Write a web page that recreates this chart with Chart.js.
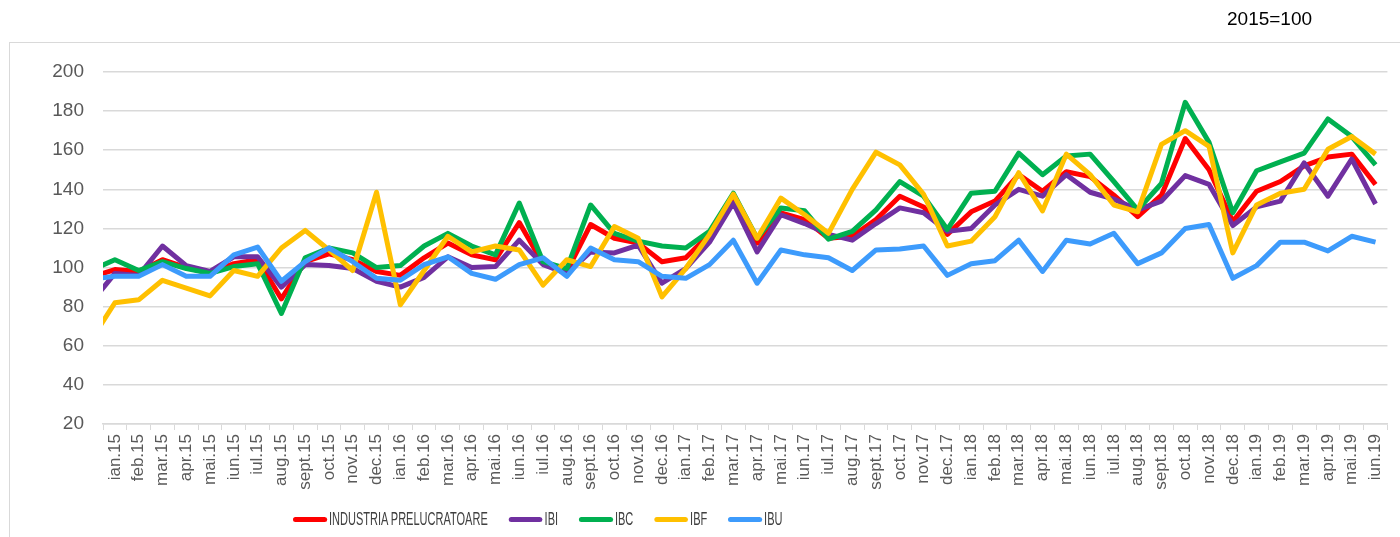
<!DOCTYPE html>
<html>
<head>
<meta charset="utf-8">
<script src="https://cdn.jsdelivr.net/npm/chart.js@4/dist/chart.umd.min.js"></script>
<style>
  html, body { margin: 0; padding: 0; background: #fff; overflow: hidden; }
  #wrap { position: relative; width: 1400px; height: 537px; }
  #frame { position: absolute; left: 9px; top: 42px; width: 1500px; height: 600px; border: 1px solid #d9d9d9; }
  #chart { position: absolute; left: 0; top: 0; }
  #base { position: absolute; left: 1227px; top: 8px; font: 19px "Liberation Sans", sans-serif; color: #000; }
  #legend {
    position: absolute; left: 293px; top: 508px; height: 22px;
    display: flex; align-items: center; white-space: nowrap;
    transform: scaleX(0.58); transform-origin: 0 50%;
    font: 19px "Liberation Sans", sans-serif; color: #404040;
  }
  #legend .item { display: flex; align-items: center; margin-right: 36px; }
  #legend .mark { width: 58.6px; height: 5px; border-radius: 4.3px / 2.5px; margin-right: 3.4px; }
</style>
</head>
<body>
<div id="wrap">
  <div id="frame"></div>
  <canvas id="chart" width="1400" height="537"></canvas>
  <div id="base">2015=100</div>
  <div id="legend"></div>
</div>
<script>
// categories (dec.14 sits left of the visible range, only its segment shows)
const months = ['dec.14',
  'ian.15','feb.15','mar.15','apr.15','mai.15','iun.15','iul.15','aug.15','sept.15','oct.15','nov.15','dec.15',
  'ian.16','feb.16','mar.16','apr.16','mai.16','iun.16','iul.16','aug.16','sept.16','oct.16','nov.16','dec.16',
  'ian.17','feb.17','mar.17','apr.17','mai.17','iun.17','iul.17','aug.17','sept.17','oct.17','nov.17','dec.17',
  'ian.18','feb.18','mar.18','apr.18','mai.18','iun.18','iul.18','aug.18','sept.18','oct.18','nov.18','dec.18',
  'ian.19','feb.19','mar.19','apr.19','mai.19','iun.19'];

const industria = [95,
  99, 98, 104, 100, 97, 102, 104, 84, 103, 107, 104, 98,
  96, 105, 112.5, 106.5, 104, 123, 102, 98, 122, 115, 112.5, 103,
  105, 117, 136.5, 112.5, 128, 124.5, 115, 116, 124.5, 136.5, 131, 117,
  128.5, 134, 147.5, 139, 149, 146.5, 137, 126, 137, 166, 150, 123.5,
  139, 144, 152, 156.5, 158, 142.5];

const ibi = [82,
  97, 96, 111, 101, 98, 105.5, 105.5, 90, 101.5, 101, 99.5, 93,
  90, 95, 105.5, 100, 100.5, 114, 101.5, 97, 108, 107.5, 111.5, 92,
  99.5, 113, 133, 108, 127, 122.5, 117, 114, 122.5, 130.5, 128, 118.5,
  120, 132, 140, 136.5, 147.5, 138.5, 135, 129.5, 134, 147, 142.5, 121.5,
  131, 134, 153.5, 136.5, 155.5, 132.5];

const ibc = [98.5,
  104, 98.5, 103, 99.5, 97, 100.5, 102, 76.5, 105, 110, 107.5, 100,
  101, 111, 117.5, 111, 106.5, 133, 103, 99.5, 132, 117.5, 113.5, 111,
  110, 118.5, 138, 115, 130.5, 129, 114.5, 118.5, 129.5, 144, 136.5, 119.5,
  138, 139, 158.5, 147.5, 157, 158, 144, 129.5, 143, 184.5, 164, 128,
  149.5, 154, 158.5, 176, 167, 152.5];

const ibf = [63,
  82, 83.5, 93.5, 89.5, 85.5, 98.5, 95.5, 110, 119, 109, 98.5, 138.5,
  81, 98.5, 116, 108, 111, 109, 91, 104, 100.5, 121, 115, 85,
  99.5, 117, 137.5, 115, 135.5, 127, 117.5, 140, 159, 152.5, 137.5, 111,
  113.5, 126, 148.5, 129, 158, 147.5, 132, 128.5, 163, 170, 162, 107.5,
  132, 138, 140, 160.5, 167, 158];

const ibu = [94,
  95.5, 95.5, 101.5, 95.5, 95.5, 106.5, 110.5, 93, 103, 110, 103, 94.5,
  93.5, 101.5, 105.5, 97, 94, 101.5, 105, 95.5, 110, 104, 103, 95.5,
  94.5, 101.5, 114, 92, 109, 106.5, 105, 98.5, 109, 109.5, 111, 96,
  102, 103.5, 114, 98, 114, 112, 117.5, 102, 107.5, 120, 122, 94.5,
  101, 113, 113, 108.5, 116, 113];

const series = [
  { label: 'INDUSTRIA PRELUCRATOARE', data: industria, color: '#ff0000' },
  { label: 'IBI', data: ibi, color: '#7030a0' },
  { label: 'IBC', data: ibc, color: '#00b050' },
  { label: 'IBF', data: ibf, color: '#ffc000' },
  { label: 'IBU', data: ibu, color: '#3d9bfc' }
];

Chart.defaults.font.family = '"Liberation Sans", sans-serif';
Chart.defaults.color = '#595959';

const ctx = document.getElementById('chart').getContext('2d');
const chart = new Chart(ctx, {
  type: 'line',
  data: {
    labels: months,
    datasets: series.map((s, i) => ({
      label: s.label,
      data: s.data,
      borderColor: s.color,
      backgroundColor: s.color,
      borderWidth: 5,
      borderJoinStyle: 'round',
      pointRadius: 0,
      tension: 0,
      fill: false,
      order: series.length - i   // later series on top, like the original
    }))
  },
  options: {
    responsive: false,
    animation: false,
    devicePixelRatio: 1,
    layout: { padding: { left: 0, right: 8, top: 72, bottom: 0 } },
    plugins: {
      legend: { display: false },
      tooltip: { enabled: false }
    },
    scales: {
      x: {
        type: 'category',
        min: 'ian.15',
        offset: true,
        grid: {
          offset: true,
          drawOnChartArea: false,
          drawTicks: true,
          tickLength: 6,
          color: '#d9d9d9'
        },
        border: { color: '#d9d9d9', width: 1.5 },
        ticks: {
          autoSkip: false,
          minRotation: 90,
          maxRotation: 90,
          padding: 4,
          font: { size: 17 },
          color: '#595959'
        },
        afterFit: scale => { scale.height = 113; }
      },
      y: {
        min: 20,
        max: 200,
        ticks: { stepSize: 20, padding: 19, font: { size: 19 }, color: '#595959' },
        grid: { color: '#d9d9d9', lineWidth: 1.5, drawTicks: false },
        border: { display: false },
        afterFit: scale => { scale.width = 103; }
      }
    }
  }
});

// legend built from the datasets
const legend = document.getElementById('legend');
chart.data.datasets.forEach(ds => {
  const item = document.createElement('span');
  item.className = 'item';
  const mark = document.createElement('span');
  mark.className = 'mark';
  mark.style.background = ds.borderColor;
  const text = document.createElement('span');
  text.textContent = ds.label;
  item.appendChild(mark);
  item.appendChild(text);
  legend.appendChild(item);
});
</script>
</body>
</html>
